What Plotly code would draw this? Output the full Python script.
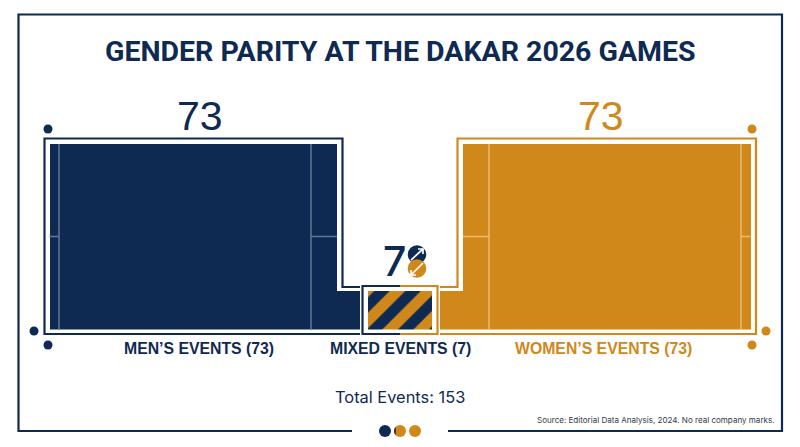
import plotly.graph_objects as go

# data
categories = ["MEN’S EVENTS", "MIXED EVENTS", "WOMEN’S EVENTS"]
events = [73, 7, 73]
total_events = 153
title_text = "GENDER PARITY AT THE DAKAR 2026 GAMES"
source_text = "Source: Editorial Data Analysis, 2024. No real company marks."

NAVY = "#0f2a52"
ORANGE = "#d0881b"
NAVY_LINE = "#5f7896"
ORANGE_LINE = "#ecbd6f"
W, H = 800, 447

men, mixed, women = events


def px(x):
    return x / W


def py(y):
    return 1 - y / H


def line(x0, y0, x1, y1, color, width=2):
    return dict(type="line", xref="paper", yref="paper", x0=px(x0), y0=py(y0), x1=px(x1), y1=py(y1),
                line=dict(color=color, width=width), layer="above")


def poly(points, color, width=2.2):
    path = "M " + " L ".join(f"{px(x):.5f} {py(y):.5f}" for x, y in points)
    return dict(type="path", xref="paper", yref="paper", path=path, line=dict(color=color, width=width), layer="above")


def dot(x, y, r, color):
    return dict(type="circle", xref="paper", yref="paper", x0=px(x - r), x1=px(x + r), y0=py(y + r), y1=py(y - r),
                fillcolor=color, line=dict(width=0), layer="above")


def half_dot(x, y, r, color):
    # upper left half of a circle, cut along the diagonal
    k = 0.5523 * r
    d = 0.7071
    x0, y0 = x - r * d, y + r * d
    x1, y1 = x + r * d, y - r * d
    mx, my = x - r * d, y - r * d
    kx, ky = k * d, k * d
    pts = [(x0 - kx, y0 - ky), (mx - kx, my + ky), (mx, my), (mx + kx, my - ky), (x1 - kx, y1 - ky), (x1, y1)]
    path = f"M {px(x0):.5f} {py(y0):.5f} C " + " ".join(f"{px(a):.5f} {py(b):.5f}" for a, b in pts) + " Z"
    return dict(type="path", xref="paper", yref="paper", path=path, fillcolor=color, line=dict(width=0), layer="above")


def label(x, y, text, size, color, family="Liberation Sans", bold=False, xanchor="center", weight=None):
    font = dict(family=family, size=size, color=color)
    if weight:
        font["weight"] = weight
    return dict(xref="paper", yref="paper", x=px(x), y=py(y), text=f"<b>{text}</b>" if bold else text,
                showarrow=False, xanchor=xanchor, yanchor="middle", font=font)


fig = go.Figure()

# main bar plus the low connector towards the mixed box
fig.add_trace(go.Bar(x=[193.25, 348.5], y=[men, mixed], width=[287.5, 23],
                     marker=dict(color=NAVY, line=dict(width=0)), showlegend=False))
fig.add_trace(go.Bar(x=[606.5, 451.5], y=[women, mixed], width=[288, 23],
                     marker=dict(color=ORANGE, line=dict(width=0)), showlegend=False))
fig.add_trace(go.Bar(x=[400], y=[mixed], width=[64],
                     marker=dict(color=ORANGE, line=dict(width=0),
                                 pattern=dict(shape="/", fgcolor=NAVY, bgcolor=ORANGE, fgopacity=1,
                                              size=22, solidity=0.5)),
                     showlegend=False))

shapes = [
    # frame, open at the bottom centre
    poly([(352, 431), (18.5, 431), (18.5, 14.5), (782, 14.5), (782, 431), (448, 431)], NAVY),
    # stepped outlines
    poly([(360, 334), (44.5, 334), (44.5, 138.5), (342.5, 138.5), (342.5, 287), (360, 287)], NAVY),
    poly([(440, 334), (756, 334), (756, 138.5), (457.5, 138.5), (457.5, 287), (440, 287)], ORANGE),
    poly([(400, 286), (362.5, 286), (362.5, 334), (400, 334)], NAVY),
    poly([(400, 286), (437.5, 286), (437.5, 334), (400, 334)], ORANGE),
    # thin court lines in the bars
    line(59, 144, 59, 329.5, NAVY_LINE, 1.5),
    line(311, 144, 311, 329.5, NAVY_LINE, 1.5),
    line(49.5, 236.5, 59, 236.5, NAVY_LINE, 1.5),
    line(311, 236.5, 337, 236.5, NAVY_LINE, 1.5),
    line(489, 144, 489, 329.5, ORANGE_LINE, 1.5),
    line(741, 144, 741, 329.5, ORANGE_LINE, 1.5),
    line(463, 236.5, 489, 236.5, ORANGE_LINE, 1.5),
    line(741, 236.5, 750.5, 236.5, ORANGE_LINE, 1.5),
    # corner dots
    dot(48, 129, 4.5, NAVY), dot(34, 331, 4.5, NAVY), dot(48, 345, 4.5, NAVY),
    dot(752, 129, 4.5, ORANGE), dot(766, 331, 4.5, ORANGE), dot(752, 345, 4.5, ORANGE),
    # icon next to the 7
    dot(417, 254.5, 9.3, NAVY), dot(417, 268.5, 9.3, ORANGE),
    poly([(411, 260), (423, 249)], "white", 1.7), poly([(418, 249), (423, 249), (423, 254)], "white", 1.7),
    poly([(423, 263), (411, 275)], "white", 1.7), poly([(411, 270), (411, 275), (416, 275)], "white", 1.7),
    # footer dots
    dot(385, 431, 6, NAVY), dot(400, 431, 6, ORANGE), half_dot(400, 431, 6, NAVY), dot(415, 431, 6, ORANGE),
]

annotations = [
    label(400, 51.5, title_text, 28.5, NAVY, family="Roboto", bold=True),
    label(199.5, 115.5, str(men), 41, NAVY),
    label(600.5, 115.5, str(women), 41, ORANGE),
    label(394.5, 261, str(mixed), 41, NAVY, family="Inter", weight=500),
    label(199, 348.5, f"{categories[0]} ({men})", 15.8, NAVY, bold=True),
    label(400, 348.5, f"{categories[1]} ({mixed})", 15.8, NAVY, bold=True),
    label(603, 348.5, f"{categories[2]} ({women})", 15.8, ORANGE, bold=True),
    label(400, 397, f"Total Events: {total_events}", 16.4, NAVY, family="Inter"),
    label(777, 420, source_text, 8.05, "#333b47", family="Inter", xanchor="right"),
]

fig.update_layout(
    width=W, height=H,
    margin=dict(l=0, r=0, t=0, b=0),
    paper_bgcolor="white", plot_bgcolor="rgba(0,0,0,0)",
    barmode="overlay",
    bargap=0,
    shapes=shapes,
    annotations=annotations,
    xaxis=dict(range=[0, W], domain=[0, 1], visible=False, fixedrange=True),
    # log value axis, which is what makes 7 stand that tall next to 73
    yaxis=dict(type="log", range=[0.58206, 1.86332], domain=[py(329.5), py(144)], visible=False, fixedrange=True),
)

fig.write_html("out.html", config=dict(displayModeBar=False),
               post_script="document.body.style.margin='0';document.body.style.overflow='hidden';")
